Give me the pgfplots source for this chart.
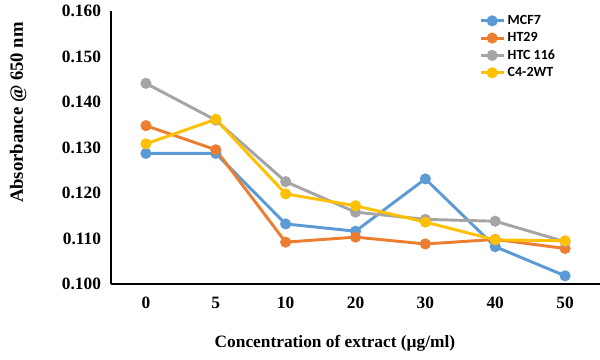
\documentclass[border=0pt]{standalone}
\usepackage{pgfplots}
\pgfplotsset{compat=1.18}
\usepackage{fontspec}
\setmainfont{Liberation Serif}
\newfontfamily\legfont{Carlito}
\definecolor{cblue}{HTML}{5B9BD5}
\definecolor{corange}{HTML}{ED7D31}
\definecolor{cgray}{HTML}{A5A5A5}
\definecolor{cyellow}{HTML}{FFC000}
\begin{document}
\begin{tikzpicture}[x=0.75pt,y=0.75pt]
\path[use as bounding box] (0,0) rectangle (600,360);
\begin{axis}[
  at={(111*0.75pt,76*0.75pt)}, anchor=south west,
  scale only axis, width=489*0.75pt, height=273*0.75pt,
  xmin=-0.5, xmax=6.5, ymin=0.100, ymax=0.160,
  axis x line*=bottom, axis y line*=left,
  axis line style={line width=1.6pt, black, -},
  xtick={0,1,2,3,4,5,6},
  xticklabels={0,5,10,20,30,40,50},
  ytick={0.100,0.110,0.120,0.130,0.140,0.150,0.160},
  major tick length=0pt,
  /pgf/number format/assume math mode=true,
  yticklabel style={/pgf/number format/fixed, /pgf/number format/precision=3, /pgf/number format/fixed zerofill, font=\fontsize{13}{15}\selectfont\bfseries, xshift=-4pt},
  xticklabel style={font=\fontsize{13}{15}\selectfont\bfseries, yshift=-6pt},
  scaled y ticks=false,
  xlabel={Concentration of extract (\textmu g/ml)},
  xlabel style={at={(axis description cs:0.458,-0.216)}, anchor=center, font=\fontsize{13}{15}\selectfont\bfseries},
  ylabel={Absorbance @ 650 nm},
  ylabel style={at={(axis description cs:-0.19,0.628)}, anchor=center, rotate=0, font=\fontsize{14}{16}\selectfont\bfseries},
  legend style={at={(0.75,1.0)}, anchor=north west, draw=none, fill=none, font=\legfont\fontsize{10.5}{12}\selectfont\bfseries, row sep=0.5pt, inner sep=1pt},
  legend cell align=left,
  every axis plot/.append style={line width=2.2pt, mark=*, mark size=3pt},
  clip=false,
]
\addplot[color=cblue, mark options={fill=cblue}] coordinates {(0,0.1287) (1,0.1287) (2,0.1132) (3,0.1116) (4,0.1231) (5,0.1082) (6,0.1018)};
\addlegendentry{MCF7}
\addplot[color=corange, mark options={fill=corange}] coordinates {(0,0.1348) (1,0.1295) (2,0.1092) (3,0.1103) (4,0.1088) (5,0.1098) (6,0.1078)};
\addlegendentry{HT29}
\addplot[color=cgray, mark options={fill=cgray}] coordinates {(0,0.1441) (1,0.1360) (2,0.1225) (3,0.1158) (4,0.1142) (5,0.1138) (6,0.1093)};
\addlegendentry{HTC 116}
\addplot[color=cyellow, mark options={fill=cyellow}] coordinates {(0,0.1308) (1,0.1362) (2,0.1198) (3,0.1172) (4,0.1136) (5,0.1097) (6,0.1095)};
\addlegendentry{C4-2WT}
\end{axis}
\end{tikzpicture}
\end{document}
